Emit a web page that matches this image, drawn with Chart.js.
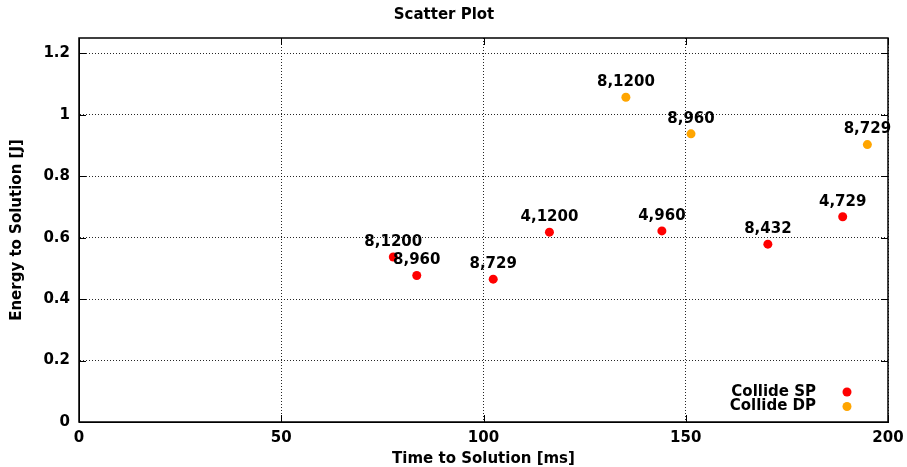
<!DOCTYPE html>
<html>
<head>
<meta charset="utf-8">
<script src="https://cdn.jsdelivr.net/npm/chart.js@4"></script>
<style>
  html, body { margin: 0; padding: 0; background: #fff; }
  #wrap { width: 907px; height: 467px; }
</style>
</head>
<body>
<div id="wrap"><canvas id="c" width="907" height="467"></canvas></div>
<script>
const chartTitle = 'Scatter Plot';
const xTitle = 'Time to Solution [ms]';
const yTitle = 'Energy to Solution [J]';
const seriesNames = ['Collide SP', 'Collide DP'];
const seriesColors = ['#ff0000', '#ffa500'];

const spX = [77.7, 83.5, 102.4, 116.3, 144.1, 170.3, 188.8];
const spY = [0.537, 0.477, 0.465, 0.618, 0.622, 0.579, 0.668];
const spLabels = ['8,1200', '8,960', '8,729', '4,1200', '4,960', '8,432', '4,729'];

const dpX = [135.2, 151.3, 194.9];
const dpY = [1.057, 0.938, 0.903];
const dpLabels = ['8,1200', '8,960', '8,729'];

const xMin = 0, xMax = 200, xStep = 50;
const yMin = 0, yMax = 1.25, yStep = 0.2;

const FONT = "'DejaVu Sans', Verdana, sans-serif";

function toPoints(xs, ys) { return xs.map((x, i) => ({ x: x, y: ys[i] })); }

const gnuplotPlugin = {
  id: 'gnuplotStyle',
  afterDatasetsDraw(chart) {
    const ctx = chart.ctx;
    const a = chart.chartArea;
    const xs = chart.scales.x, ys = chart.scales.y;
    ctx.save();
    // inward mirror ticks
    ctx.strokeStyle = '#000';
    ctx.lineWidth = 1;
    const tl = 7;
    xs.ticks.forEach(t => {
      const px = Math.round(xs.getPixelForValue(t.value)) + 0.5;
      ctx.beginPath();
      ctx.moveTo(px, a.bottom); ctx.lineTo(px, a.bottom - tl);
      ctx.moveTo(px, a.top); ctx.lineTo(px, a.top + tl);
      ctx.stroke();
    });
    ys.ticks.forEach(t => {
      const py = Math.round(ys.getPixelForValue(t.value)) + 0.5;
      ctx.beginPath();
      ctx.moveTo(a.left, py); ctx.lineTo(a.left + tl, py);
      ctx.moveTo(a.right, py); ctx.lineTo(a.right - tl, py);
      ctx.stroke();
    });
    // frame
    ctx.lineWidth = 1.5;
    ctx.strokeRect(a.left, a.top, a.right - a.left, a.bottom - a.top);

    // point labels
    ctx.fillStyle = '#000';
    ctx.font = 'bold 15px ' + FONT;
    ctx.textAlign = 'center';
    ctx.textBaseline = 'middle';
    chart.data.datasets.forEach((ds, di) => {
      const meta = chart.getDatasetMeta(di);
      meta.data.forEach((el, i) => {
        ctx.fillText(ds.pointLabels[i], el.x, el.y - 15);
      });
    });

    // legend (text right-aligned, marker to the right)
    ctx.textAlign = 'right';
    chart.data.datasets.forEach((ds, di) => {
      const y = a.bottom - 30 + di * 14.5;
      ctx.fillStyle = '#000';
      ctx.fillText(ds.label, a.right - 72, y);
      ctx.beginPath();
      ctx.fillStyle = ds.backgroundColor;
      ctx.arc(a.right - 41, y, 4.5, 0, Math.PI * 2);
      ctx.fill();
    });
    ctx.restore();
  }
};

new Chart(document.getElementById('c'), {
  type: 'scatter',
  data: {
    datasets: [
      { label: seriesNames[0], data: toPoints(spX, spY), pointLabels: spLabels,
        backgroundColor: seriesColors[0], borderWidth: 0, pointRadius: 4.5, pointHoverRadius: 4.5 },
      { label: seriesNames[1], data: toPoints(dpX, dpY), pointLabels: dpLabels,
        backgroundColor: seriesColors[1], borderWidth: 0, pointRadius: 4.5, pointHoverRadius: 4.5 }
    ]
  },
  options: {
    responsive: false,
    animation: false,
    devicePixelRatio: 1,
    layout: { padding: { left: 0, right: 19, top: 0, bottom: 0 } },
    plugins: {
      legend: { display: false },
      tooltip: { enabled: false },
      title: {
        display: true, text: chartTitle, color: '#000',
        font: { family: FONT, size: 15, weight: 'bold', lineHeight: 1.2 },
        padding: { top: 6, bottom: 14 }
      }
    },
    scales: {
      x: {
        type: 'linear', min: xMin, max: xMax,
        afterFit(s) { s.height = 45; s.paddingLeft = 0; s.paddingRight = 0; },
        ticks: { stepSize: xStep, color: '#000', padding: 7, maxRotation: 0,
                 font: { family: FONT, size: 15, weight: 'bold' } },
        grid: { color: 'rgba(0,0,0,0.85)', lineWidth: 1, drawTicks: false },
        border: { display: true, color: '#000', width: 1, dash: [1, 2] },
        title: { display: true, text: xTitle, color: '#000', padding: { top: 0, bottom: 0 },
                 font: { family: FONT, size: 15, weight: 'bold', lineHeight: 1.1 } }
      },
      y: {
        type: 'linear', min: yMin, max: yMax,
        afterFit(s) { s.width = 79; s.paddingTop = 0; s.paddingBottom = 0; },
        ticks: { stepSize: yStep, includeBounds: false, color: '#000', padding: 9,
                 callback: v => String(+v.toFixed(2)),
                 font: { family: FONT, size: 15, weight: 'bold' } },
        grid: { color: 'rgba(0,0,0,0.85)', lineWidth: 1, drawTicks: false },
        border: { display: true, color: '#000', width: 1, dash: [1, 2] },
        title: { display: true, text: yTitle, color: '#000', padding: { top: 8, bottom: 0 },
                 font: { family: FONT, size: 15, weight: 'bold', lineHeight: 1.2 } }
      }
    }
  },
  plugins: [gnuplotPlugin]
});
</script>
</body>
</html>
